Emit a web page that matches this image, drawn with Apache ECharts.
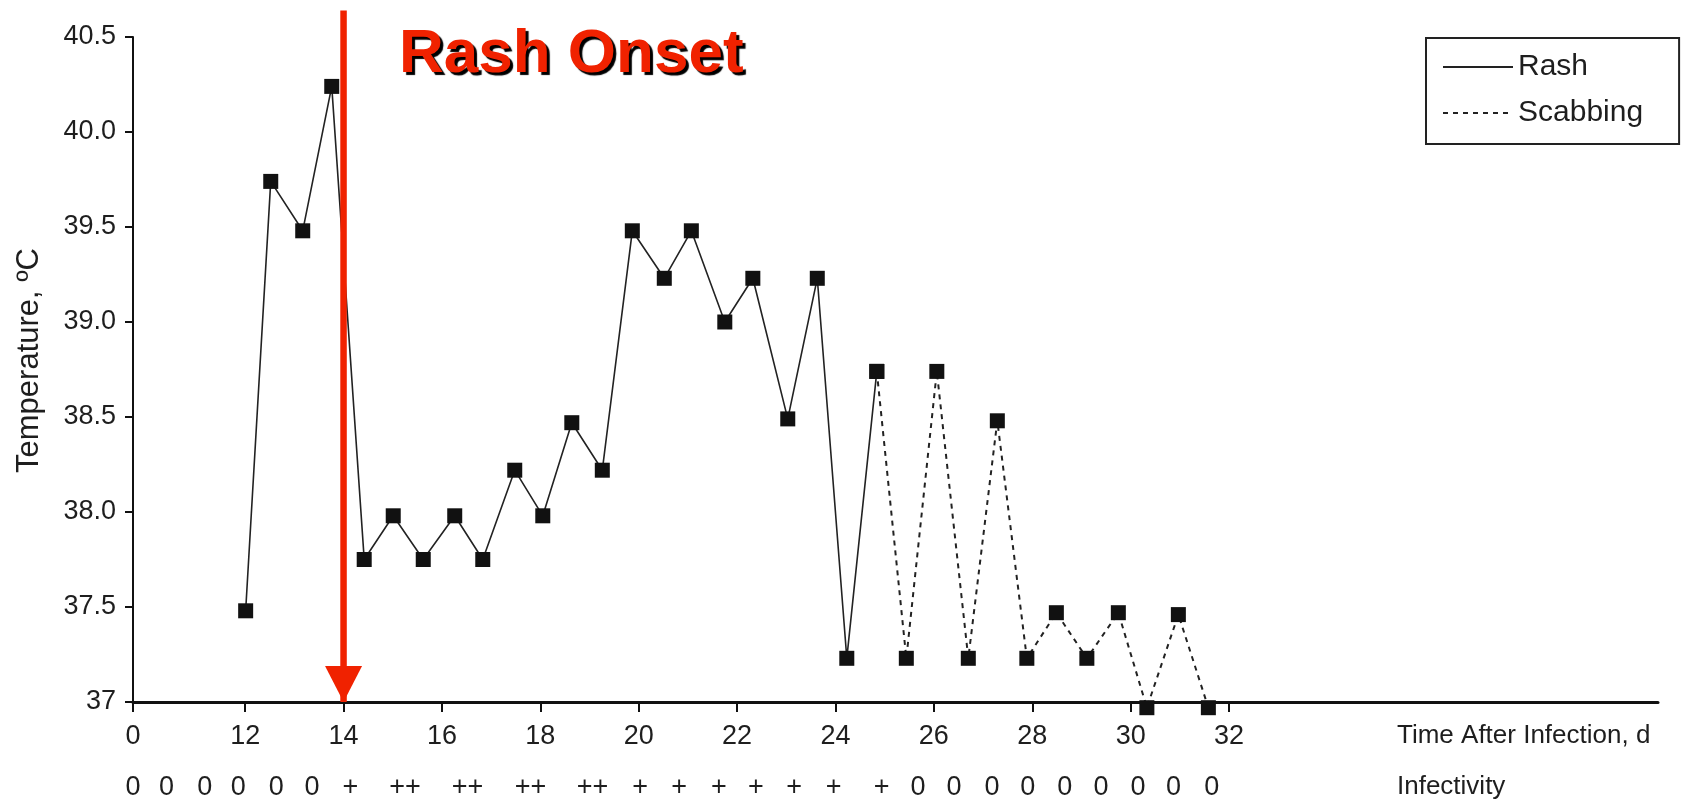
<!DOCTYPE html>
<html>
	<head>
		<meta charset="utf-8">
		<title>Temperature after infection</title>
		<script src="https://cdn.jsdelivr.net/npm/echarts@6/dist/echarts.min.js" type="text/javascript" charset="utf-8"></script>
		<style>
			html,body{margin:0;padding:0;background:#fff;}
			#main{width:1688px;height:804px;}
		</style>
	</head>
	<body>
		<div id="main"></div>
		<script type="text/javascript">
			// days after infection of each reading, and temperature in degC
			var dayX = [12.01, 12.52, 13.17, 13.76, 14.42, 15.01, 15.62, 16.26, 16.83, 17.48, 18.05, 18.64, 19.26, 19.87, 20.52, 21.07, 21.75, 22.32, 23.03, 23.63, 24.23, 24.84, 25.44, 26.06, 26.70, 27.29, 27.89, 28.49, 29.11, 29.75, 30.33, 30.97, 31.58];
			var tempC = [37.48, 39.74, 39.48, 40.24, 37.75, 37.98, 37.75, 37.98, 37.75, 38.22, 37.98, 38.47, 38.22, 39.48, 39.23, 39.48, 39.0, 39.23, 38.49, 39.23, 37.23, 38.74, 37.23, 38.74, 37.23, 38.48, 37.23, 37.47, 37.23, 37.47, 36.97, 37.46, 36.97];
			var scabStart = 21; // index where scabbing (dashed) begins

			// x axis is broken: "0" sits at the left end, then 12..32
			var xTicks = [9.72, 12, 14, 16, 18, 20, 22, 24, 26, 28, 30, 32];
			var xTickLabels = ['0', '12', '14', '16', '18', '20', '22', '24', '26', '28', '30', '32'];

			// infectivity row under the axis
			var infectPos = [9.72, 10.40, 11.18, 11.86, 12.63, 13.36, 14.14, 15.25, 16.52, 17.80, 19.06, 20.03, 20.82, 21.63, 22.38, 23.16, 23.96, 24.94, 25.68, 26.41, 27.18, 27.91, 28.66, 29.40, 30.15, 30.87, 31.65];
			var infectMarks = ['0', '0', '0', '0', '0', '0', '+', '++', '++', '++', '++', '+', '+', '+', '+', '+', '+', '+', '0', '0', '0', '0', '0', '0', '0', '0', '0'];

			var onsetDay = 14, arrowTop = 40.64;
			var xMin = 9.72, xMax = 40.72;

			var pts = dayX.map(function(d, i){ return [d, tempC[i]]; });
			var rashData = pts.slice(0, scabStart + 1),
				scabData = pts.slice(scabStart);

			var font = 'Liberation Sans',
				ink = '#1e1e1e',
				red = '#f02200';

			var myChart = echarts.init(document.getElementById('main'));
			var option = {
				backgroundColor: '#fff',
				animation: false,
				title: {
					text: 'Rash Onset',
					left: 399,
					top: 24,
					padding: 0,
					textStyle: {
						color: red,
						fontSize: 62,
						fontWeight: 'bold',
						fontFamily: font,
						textShadowColor: '#000',
						textShadowBlur: 1,
						textShadowOffsetX: 3,
						textShadowOffsetY: 3
					}
				},
				legend: {
					orient: 'vertical',
					left: 1426,
					top: 38,
					padding: [14, 36, 16, 16],
					itemWidth: 70,
					itemHeight: 20,
					itemGap: 16,
					borderColor: '#222',
					borderWidth: 2,
					itemStyle: {opacity: 0},
					textStyle: {fontSize: 30, color: ink, fontFamily: font},
					data: ['Rash', 'Scabbing']
				},
				grid: {
					left: 133,
					right: 30,
					top: 37,
					bottom: 102,
					outerBoundsMode: 'none'
				},
				xAxis: [{
					type: 'value',
					min: xMin,
					max: xMax,
					name: 'Time After Infection, d',
					nameLocation: 'end',
					nameGap: -261,
					nameTextStyle: {
						align: 'left',
						verticalAlign: 'top',
						padding: [21, 0, 0, 0],
						fontSize: 26,
						color: ink,
						fontFamily: font
					},
					axisLine: {lineStyle: {color: '#111', width: 3}},
					axisTick: {show: true, length: 10, lineStyle: {width: 2, color: '#111'}, customValues: xTicks},
					axisLabel: {
						customValues: xTicks,
						margin: 21,
						fontSize: 27,
						color: ink,
						fontFamily: font,
						formatter: function(v){ return xTickLabels[xTicks.indexOf(v)]; }
					},
					splitLine: {show: false}
				},{
					type: 'value',
					position: 'bottom',
					offset: 51,
					min: xMin,
					max: xMax,
					name: 'Infectivity',
					nameLocation: 'end',
					nameGap: -261,
					nameTextStyle: {
						align: 'left',
						verticalAlign: 'top',
						padding: [21, 0, 0, 0],
						fontSize: 26,
						color: ink,
						fontFamily: font
					},
					axisLine: {show: false},
					axisTick: {show: false},
					axisLabel: {
						customValues: infectPos,
						margin: 21,
						fontSize: 27,
						color: ink,
						fontFamily: font,
						formatter: function(v){ return infectMarks[infectPos.indexOf(v)]; }
					},
					splitLine: {show: false}
				}],
				yAxis: {
					type: 'value',
					min: 37,
					max: 40.5,
					interval: 0.5,
					name: 'Temperature, \u00baC',
					nameLocation: 'middle',
					nameRotate: 90,
					nameGap: 88,
					nameTextStyle: {fontSize: 31, color: ink, fontFamily: font, padding: [0, 0, 0, 18]},
					axisLine: {show: true, lineStyle: {color: '#111', width: 2}},
					axisTick: {show: true, length: 8, lineStyle: {width: 2, color: '#111'}},
					axisLabel: {
						margin: 17,
						fontSize: 27,
						color: ink,
						fontFamily: font,
						formatter: function(v){ return v === 37 ? '37' : v.toFixed(1); }
					},
					splitLine: {show: false}
				},
				series: [{
					name: 'Rash',
					type: 'line',
					data: rashData,
					clip: false,
					symbol: 'rect',
					symbolSize: 15,
					itemStyle: {color: '#111'},
					lineStyle: {color: '#222', width: 1.6}
				},{
					name: 'Scabbing',
					type: 'line',
					data: scabData,
					clip: false,
					symbol: 'rect',
					symbolSize: 15,
					itemStyle: {color: '#111'},
					lineStyle: {color: '#222', width: 2, type: [5, 5]}
				},{
					// red onset arrow
					name: 'onset',
					type: 'line',
					z: 5,
					clip: false,
					silent: true,
					color: red,
					lineStyle: {color: red, width: 6.5},
					data: [
						{value: [onsetDay, arrowTop], symbol: 'none'},
						{value: [onsetDay, 37], symbol: 'triangle', symbolSize: [37, 36], symbolRotate: 180, symbolOffset: [0, -18], itemStyle: {color: red}}
					]
				}]
			};
			myChart.setOption(option);
		</script>
	</body>
</html>
